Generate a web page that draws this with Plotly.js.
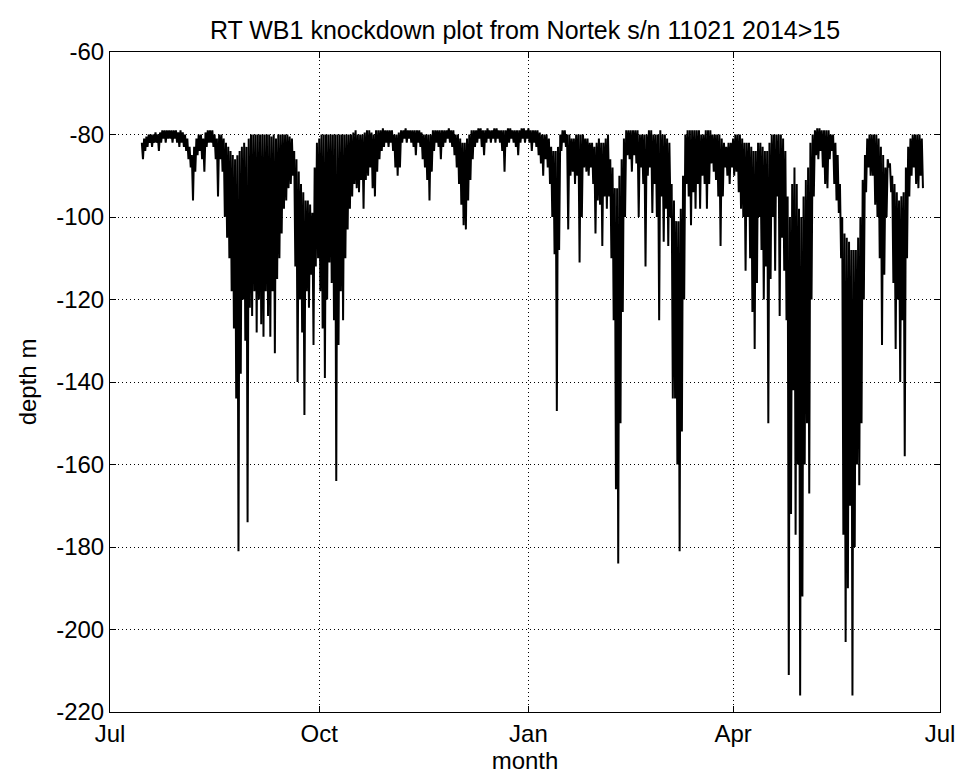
<!DOCTYPE html>
<html><head><meta charset="utf-8">
<script src="https://cdn.plot.ly/plotly-3.0.1.min.js"></script>
<style>html,body{margin:0;padding:0;background:#fff}</style>
</head><body>
<div id="chart" style="width:962px;height:776px"></div>
<script>
// First sampled day; one shallow and one deep reading per day
const startDate = '2014-07-15';
const tickDates = ['2014-07-01','2014-10-01','2015-01-01','2015-04-01','2015-07-01'];
const tickLabels = ['Jul','Oct','Jan','Apr','Jul'];
const depthTicks = [-220,-200,-180,-160,-140,-120,-100,-80,-60];
const depthTickLabels = ['-220','-200','-180','-160','-140','-120','-100','-80','-60'];

// daily shallowest depth (m)
const dailyTop = [
-82,-81,-80.5,-80,-80,-80,-79.5,
-80,-79.5,-79,-79,-79,-79,-79,
-79,-79,-79.5,-79,-79.5,-80,-81,
-83,-85,-83,-81,-80,-80,-81,
-79.5,-79,-79,-79,-80,-81,-80,
-80,-81,-82,-83,-84,-85,-86,
-85,-84,-83,-82,-83,-81,-80,
-80,-80,-80,-80,-80,-80,-80,
-80,-80.5,-80,-81,-80,-80,-80,
-80,-80,-80.5,-81,-84,-86,-89,
-92,-94,-96,-96,-97,-99,-88,
-82,-81,-80,-80,-80,-80,-80,
-80,-80,-80,-80,-80,-80,-80,
-80,-80,-79.5,-79,-80,-80,-80,
-79.5,-79,-79,-79.5,-80,-79,-79,
-79,-78.5,-79,-79,-79,-79,-80,
-80,-79.5,-79,-79,-78.5,-79,-79,
-79,-79,-79,-79,-79.5,-80,-80,
-80,-80,-79,-79,-79,-79,-79,
-79,-79,-78.5,-79,-79,-80,-80,
-81,-82,-82,-81,-80,-79,-79,
-79,-78.5,-78.5,-79,-79,-78.5,-79,
-79,-78.5,-78.5,-79,-79,-79,-79,
-78.5,-78.5,-79,-79,-79,-79,-78.5,
-78.5,-79,-78.5,-79,-79,-79,-79,
-79.5,-80,-80,-80,-81,-83,-84,
-84,-83,-80,-79,-79,-80,-80,
-81,-81,-80,-80,-80,-80,-81,
-81,-82,-82,-83,-82,-81,-82,
-82,-81,-80,-86,-88,-93,-93,
-90,-86,-81,-79,-79,-79,-79,
-79,-79,-80,-80,-80,-80,-79,
-79,-80,-80,-80,-79,-80,-80,
-81,-82,-92,-96,-101,-101,-98,
-90,-80,-79,-79,-79,-79,-79,
-79,-80,-80,-79,-79,-79,-80,
-80,-80,-80,-81,-82,-83,-82,
-82,-81,-80,-80,-80,-81,-82,
-82,-82,-83,-84,-84,-82,-82,
-83,-84,-84,-82,-80,-80,-80,
-80,-80,-81,-84,-95,-100,-92,
-88,-92,-98,-100,-95,-91,-88,
-82,-80,-79,-78.5,-78.5,-79,-79,
-79,-79,-80,-80,-82,-85,-92,
-100,-104,-105,-106,-108,-108,-108,
-105,-100,-91,-85,-81,-80,-80,
-80,-80,-81,-83,-85,-88,-86,
-87,-90,-92,-94,-96,-95,-94,
-88,-83,-81,-80,-80,-80,-80,
-81
];

// daily deepest depth (m)
const dailyBottom = [
-86,-84,-83,-82,-83,-82,-82,
-84,-82,-81,-82,-81,-81,-82,
-81,-82,-83,-82,-83,-84,-86,
-88,-96,-89,-85,-84,-86,-89,
-83,-82,-82,-83,-86,-95,-86,
-89,-100,-105,-110,-118,-127,-144,
-181,-138,-120,-130,-174,-122,-124,
-118,-128,-120,-126,-129,-118,-124,
-129,-118,-133,-115,-110,-104,-98,
-96,-93,-92,-90,-112,-140,-120,
-128,-148,-118,-122,-114,-131,-112,
-110,-118,-127,-139,-120,-111,-116,
-125,-164,-131,-118,-125,-110,-103,
-98,-95,-92,-93,-94,-91,-98,
-91,-90,-88,-93,-95,-89,-86,
-84,-83,-82,-83,-82,-84,-88,
-90,-88,-82,-81,-82,-81,-82,
-83,-85,-82,-83,-86,-88,-91,
-96,-89,-84,-82,-83,-86,-83,
-82,-81,-82,-83,-85,-88,-92,
-97,-102,-103,-96,-91,-86,-83,
-82,-81,-83,-85,-82,-81,-82,
-81,-82,-81,-82,-84,-89,-83,
-82,-81,-82,-83,-85,-82,-81,
-82,-81,-82,-84,-82,-83,-85,
-87,-90,-86,-88,-92,-100,-109,
-147,-108,-84,-82,-83,-103,-90,
-89,-92,-90,-111,-100,-88,-89,
-90,-88,-92,-104,-96,-97,-107,
-95,-98,-95,-110,-125,-166,-184,
-150,-123,-100,-85,-86,-89,-85,
-87,-100,-88,-92,-112,-90,-88,
-99,-92,-100,-125,-95,-106,-98,
-107,-100,-144,-144,-160,-181,-152,
-120,-92,-95,-102,-94,-98,-92,
-98,-90,-92,-98,-92,-87,-89,
-91,-95,-107,-95,-88,-90,-92,
-88,-90,-89,-94,-98,-100,-113,
-100,-110,-123,-132,-116,-100,-108,
-120,-112,-150,-115,-100,-113,-95,
-124,-105,-113,-125,-211,-172,-142,
-177,-160,-216,-192,-160,-150,-167,
-120,-95,-85,-86,-84,-88,-92,
-93,-86,-84,-92,-96,-99,-110,
-177,-203,-190,-170,-216,-180,-160,
-165,-150,-120,-94,-88,-90,-90,
-97,-100,-110,-131,-114,-100,-88,
-94,-116,-132,-120,-140,-125,-158,
-110,-95,-90,-88,-92,-93,-90,
-93
];

function fmt(ms){
  const d = new Date(ms);
  const p = n => String(n).padStart(2,'0');
  return d.getUTCFullYear()+'-'+p(d.getUTCMonth()+1)+'-'+p(d.getUTCDate())+' '+p(d.getUTCHours())+':'+p(d.getUTCMinutes());
}
const t0 = Date.parse(startDate + 'T00:00:00Z');
const DAY = 86400000;
const xs = [], ys = [];
for (let i = 0; i < dailyTop.length; i++) {
  xs.push(fmt(t0 + i*DAY)); ys.push(dailyTop[i]);
  xs.push(fmt(t0 + i*DAY + DAY/2)); ys.push(dailyBottom[i]);
}

const FONT = '"Liberation Sans", Arial, Helvetica, sans-serif';
const NARROW = '"Liberation Sans Narrow", "Arial Narrow", "Liberation Sans", Arial, sans-serif';
const axisCommon = {
  ticks:'inside', ticklen:6, tickwidth:1, tickcolor:'#000',
  showline:true, linecolor:'#000', linewidth:1, mirror:'ticks',
  showgrid:true, gridcolor:'#000', gridwidth:1, griddash:'1px,3px',
  zeroline:false, automargin:false,
  tickfont:{family:NARROW, size:24, color:'#000'}
};

const data = [{
  type:'scatter', mode:'lines', x:xs, y:ys,
  line:{color:'#000', width:2}, hoverinfo:'skip'
}];

const layout = {
  width:962, height:776,
  margin:{l:110, r:22, t:52, b:64},
  paper_bgcolor:'#fff', plot_bgcolor:'#fff',
  showlegend:false,
  font:{family:FONT, size:24, color:'#000'},
  title:{text:'RT WB1 knockdown plot from Nortek s/n 11021 2014>15',
         font:{family:FONT, size:25, color:'#000'},
         x:0.5, xref:'paper', xanchor:'center',
         y:1-30/776, yref:'container', yanchor:'middle'}
};
layout.xaxis = Object.assign({}, axisCommon, {
  type:'date', range:['2014-07-01','2015-07-01'],
  tickmode:'array', tickvals:tickDates, ticktext:tickLabels,
  title:{text:'month', font:{family:NARROW, size:24, color:'#000'}, standoff:4}
});
layout.yaxis = Object.assign({}, axisCommon, {
  range:[-220,-60], tickmode:'array', tickvals:depthTicks, ticktext:depthTickLabels,
  title:{text:'depth m', font:{family:NARROW, size:24, color:'#000'}, standoff:12}
});

Plotly.newPlot('chart', data, layout, {displayModeBar:false, staticPlot:true});
</script>
</body></html>
